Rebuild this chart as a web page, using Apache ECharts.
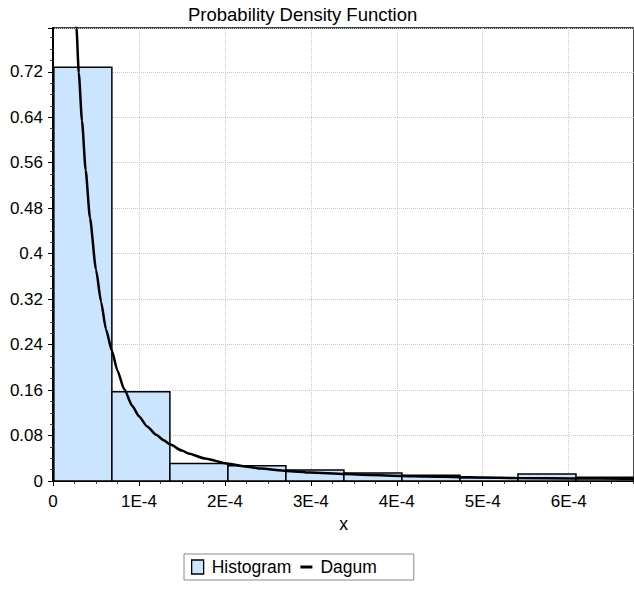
<!DOCTYPE html>
<html>
<head>
<meta charset="utf-8">
<script src="https://cdn.jsdelivr.net/npm/echarts@6/dist/echarts.min.js"></script>
<style>
html,body{margin:0;padding:0;background:#fff;}
#chart{width:634px;height:590px;}
</style>
</head>
<body>
<div id="chart"></div>
<script>
// Histogram bins (x in data units) and densities
const binStarts = [0.01e-4, 0.685e-4, 1.36e-4, 2.035e-4, 2.71e-4, 3.385e-4, 4.06e-4, 4.735e-4, 5.41e-4, 6.085e-4];
const binEnds   = [0.685e-4, 1.36e-4, 2.035e-4, 2.71e-4, 3.385e-4, 4.06e-4, 4.735e-4, 5.41e-4, 6.085e-4, 6.76e-4];
const densities = [0.728, 0.157, 0.031, 0.027, 0.0195, 0.014, 0.010, 0.0055, 0.0123, 0.0065];

// Dagum fitted PDF curve
const dagumX = [0.22e-4, 0.25e-4, 0.273e-4, 0.30e-4, 0.337e-4, 0.38e-4, 0.43e-4, 0.50e-4, 0.56e-4, 0.616e-4, 0.685e-4, 0.75e-4, 0.827e-4, 0.923e-4, 1.0e-4, 1.096e-4, 1.2e-4, 1.288e-4, 1.366e-4, 1.5e-4, 1.577e-4, 1.769e-4, 2.038e-4, 2.23e-4, 2.42e-4, 2.715e-4, 3.0e-4, 3.39e-4, 3.69e-4, 4.065e-4, 4.345e-4, 4.73e-4, 5.0e-4, 5.39e-4, 6.07e-4, 6.65e-4, 6.8e-4];
const dagumY = [0.99, 0.87, 0.797, 0.718, 0.634, 0.547, 0.463, 0.372, 0.315, 0.267, 0.229, 0.194, 0.162, 0.132, 0.114, 0.096, 0.0815, 0.0717, 0.064, 0.0535, 0.0485, 0.0395, 0.0305, 0.0255, 0.0218, 0.0178, 0.0148, 0.0121, 0.0104, 0.0088, 0.0078, 0.0068, 0.0060, 0.0052, 0.0044, 0.0040, 0.0038];

// Axis settings
const xMin = 0, xMax = 6.76e-4, xInterval = 1e-4;
const yMin = 0, yMax = 0.797, yInterval = 0.08;

const titleText = 'Probability Density Function';
const xName = 'x';
const seriesNames = ['Histogram', 'Dagum'];

const FONT = "'Liberation Sans', Arial, sans-serif";
const barFill = '#cce5ff';

const histData = binStarts.map((s, i) => [s, binEnds[i], densities[i]]);
const lineData = dagumX.map((x, i) => [x, dagumY[i]]);

const chart = echarts.init(document.getElementById('chart'), null, {renderer: 'svg'});

chart.setOption({
  backgroundColor: '#fff',
  animation: false,
  title: {
    text: titleText,
    left: 183,
    top: 0,
    textStyle: {fontFamily: FONT, fontSize: 18.5, fontWeight: 'normal', color: '#000'}
  },
  legend: {
    left: 184,
    top: 554,
    orient: 'horizontal',
    itemWidth: 12,
    itemHeight: 14,
    itemGap: 9,
    padding: [4, 37, 4, 7],
    borderColor: '#8a8a8a',
    borderWidth: 1,
    backgroundColor: '#fff',
    textStyle: {fontFamily: FONT, fontSize: 17.5, color: '#000', padding: [0, 0, 0, 3]},
    data: [
      {name: seriesNames[0], icon: 'rect', itemStyle: {color: barFill, borderColor: '#000', borderWidth: 1.3}},
      {name: seriesNames[1], icon: 'path://M0,0H12V3H0Z', itemStyle: {color: '#000', borderWidth: 0}}
    ]
  },
  grid: {
    left: 53,
    top: 28,
    bottom: 109,
    right: -5.4,
    show: true,
    borderColor: '#444',
    borderWidth: 2,
    backgroundColor: '#fff'
  },
  xAxis: {
    type: 'value',
    min: xMin, max: xMax, interval: xInterval,
    name: xName,
    nameLocation: 'middle',
    nameGap: 32,
    nameTextStyle: {fontFamily: FONT, fontSize: 17.5, color: '#000'},
    axisLine: {show: true, lineStyle: {color: '#000', width: 2}},
    axisTick: {show: true, length: 5, lineStyle: {color: '#000', width: 1}},
    minorTick: {show: true, splitNumber: 4, length: 3, lineStyle: {color: '#444', width: 1}},
    axisLabel: {
      fontFamily: FONT, fontSize: 17, color: '#000', margin: 12,
      showMaxLabel: false,
      formatter: v => v === 0 ? '0' : Math.round(v / xInterval) + 'E-4'
    },
    splitLine: {show: true, lineStyle: {color: '#c8c8c8', type: 'dotted', width: 1}}
  },
  yAxis: {
    type: 'value',
    min: yMin, max: yMax, interval: yInterval,
    axisLine: {show: true, lineStyle: {color: '#000', width: 2}},
    axisTick: {show: true, length: 5, lineStyle: {color: '#000', width: 1}},
    minorTick: {show: true, splitNumber: 4, length: 3, lineStyle: {color: '#444', width: 1}},
    axisLabel: {
      fontFamily: FONT, fontSize: 17, color: '#000', margin: 10,
      showMaxLabel: false,
      formatter: v => String(+v.toFixed(2))
    },
    splitLine: {show: true, lineStyle: {color: '#c8c8c8', type: 'dotted', width: 1}}
  },
  series: [
    {
      name: seriesNames[0],
      type: 'custom',
      data: histData,
      encode: {x: [0, 1], y: 2},
      itemStyle: {color: barFill, borderColor: '#000', borderWidth: 1.5},
      renderItem: function (params, api) {
        const p0 = api.coord([api.value(0), api.value(2)]);
        const p1 = api.coord([api.value(1), 0]);
        return {
          type: 'rect',
          shape: {x: p0[0], y: p0[1], width: p1[0] - p0[0], height: p1[1] - p0[1]},
          style: {fill: barFill, stroke: '#000', lineWidth: 1.5}
        };
      },
      z: 2
    },
    {
      name: seriesNames[1],
      type: 'line',
      data: lineData,
      showSymbol: false,
      symbol: 'none',
      smooth: 0.2,
      smoothMonotone: 'x',
      clip: true,
      lineStyle: {color: '#000', width: 2.5},
      itemStyle: {color: '#000'},
      z: 3
    }
  ]
});
</script>
</body>
</html>
